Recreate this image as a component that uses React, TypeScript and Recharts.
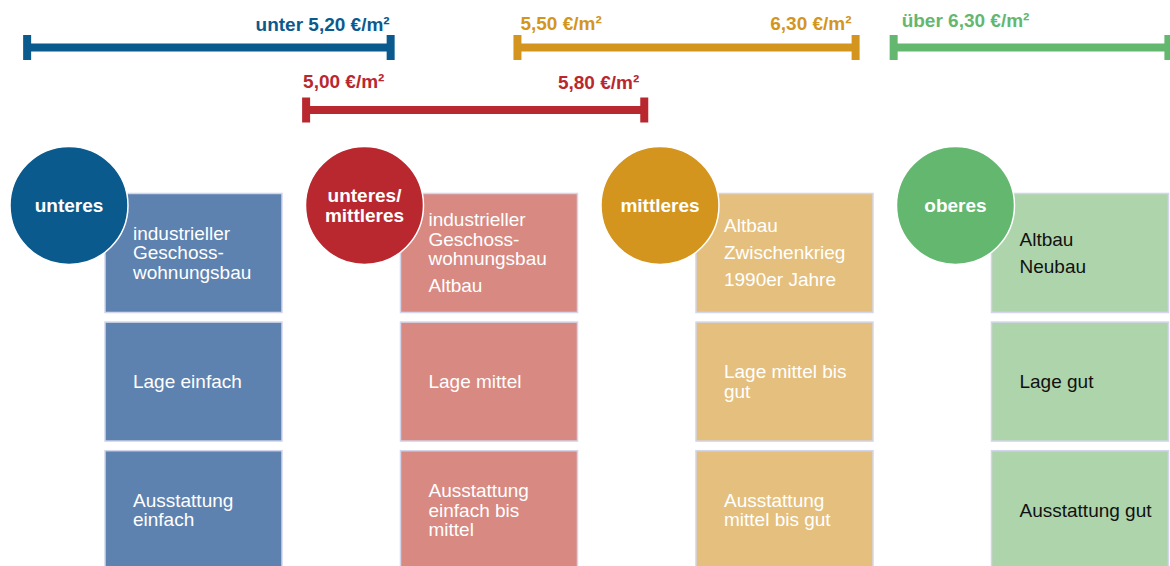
import React from 'react';
import { ComposedChart, Line, Scatter, XAxis, YAxis } from 'recharts';

// Mietpreisspannen (€/m²) je Wohnwertklasse
const levels = ['unteres', 'unteres/mittleres', 'mittleres', 'oberes'];
const priceFrom = [4.34, 5.0, 5.5, 6.39];
const priceTo = [5.2, 5.8, 6.3, 7.04];
const priceTrack = [0, 1, 0, 0];
const fromLabels = ['', '5,00 €/m²', '5,50 €/m²', 'über 6,30 €/m²'];
const toLabels = ['unter 5,20 €/m²', '5,80 €/m²', '6,30 €/m²', ''];

const badgeLines = [['unteres'], ['unteres/', 'mittleres'], ['mittleres'], ['oberes']];

// each cell: list of paragraphs, each paragraph a list of wrapped lines
const baujahrTexts = [
  [['industrieller', 'Geschoss-', 'wohnungsbau']],
  [['industrieller', 'Geschoss-', 'wohnungsbau'], ['Altbau']],
  [['Altbau'], ['Zwischenkrieg'], ['1990er Jahre']],
  [['Altbau'], ['Neubau']],
];
const lageTexts = [[['Lage einfach']], [['Lage mittel']], [['Lage mittel bis', 'gut']], [['Lage gut']]];
const ausstattungTexts = [
  [['Ausstattung', 'einfach']],
  [['Ausstattung', 'einfach bis', 'mittel']],
  [['Ausstattung', 'mittel bis gut']],
  [['Ausstattung gut']],
];

const DARK = ['#0B5A8E', '#B9282F', '#D4951F', '#64B76F'];
const LIGHT = ['#5D82B0', '#D88981', '#E5BF7D', '#AED4AC'];
const BOX_TEXT = ['#ffffff', '#ffffff', '#ffffff', '#111111'];
// label placement relative to the cap: [dx, lift]
const FROM_LABEL_POS = [[0, 0], [-3, 22], [3, 17.5], [8, 20.5]];
const TO_LABEL_POS = [[-1, 16.5], [-5, 21], [-4, 17.5], [0, 0]];

const FONT = '"Liberation Sans", Arial, sans-serif';

const bands = levels.map((name, i) => ({
  name,
  level: i,
  points: [
    { price: priceFrom[i], lvl: priceTrack[i], label: fromLabels[i], end: 'from' },
    { price: priceTo[i], lvl: priceTrack[i], label: toLabels[i], end: 'to' },
  ],
}));

const rowTexts = [baujahrTexts, lageTexts, ausstattungTexts];
const boxes = rowTexts.flatMap((texts, r) =>
  texts.map((text, i) => ({ col: i, row: r, level: i, text }))
);
const badges = badgeLines.map((lines, i) => ({ col: i, row: 0, level: i, lines }));

function makeCap(level: number) {
  return (props: any) => {
    const { cx, cy, payload, index } = props;
    const color = DARK[level];
    const isFrom = payload.end === 'from';
    const pos = isFrom ? FROM_LABEL_POS[level] : TO_LABEL_POS[level];
    return (
      <g key={`cap-${level}-${index}`}>
        <rect x={cx - 4} y={cy - 12.5} width={8} height={25} fill={color} />
        {payload.label && (
          <text
            x={cx + pos[0]}
            y={cy - pos[1]}
            textAnchor={isFrom ? 'start' : 'end'}
            fill={color}
            fontFamily={FONT}
            fontSize={19}
            fontWeight="bold"
          >
            {payload.label}
          </text>
        )}
      </g>
    );
  };
}

function InfoBox(props: any) {
  const { cx, cy, payload } = props;
  const w = 177;
  const h = 119;
  const x0 = cx - w / 2;
  const y0 = cy - h / 2;
  const lines: { t: string; y: number }[] = [];
  let y = 0;
  payload.text.forEach((para: string[]) => {
    para.forEach((t, li) => {
      if (lines.length) y += li === 0 ? 27 : 19.5;
      lines.push({ t, y });
    });
  });
  const first = cy - y / 2 + 6.5;
  return (
    <g>
      <rect x={x0} y={y0} width={w} height={h} fill={LIGHT[payload.level]} stroke="#D3D6EA" strokeWidth={1.5} />
      {lines.map((l, k) => (
        <text key={k} x={x0 + 28} y={first + l.y} fill={BOX_TEXT[payload.level]} fontFamily={FONT} fontSize={19}>
          {l.t}
        </text>
      ))}
    </g>
  );
}

function Badge(props: any) {
  const { cx, cy, payload } = props;
  const bx = cx - 124.5;
  const by = cy - 47.5;
  const n = payload.lines.length;
  return (
    <g>
      <circle cx={bx} cy={by} r={59} fill={DARK[payload.level]} stroke="#ffffff" strokeWidth={1.5} />
      {payload.lines.map((t: string, k: number) => (
        <text
          key={k}
          x={bx}
          y={by + 6.5 + (k - (n - 1) / 2) * 19.5}
          textAnchor="middle"
          fill="#ffffff"
          fontFamily={FONT}
          fontSize={19}
          fontWeight="bold"
        >
          {t}
        </text>
      ))}
    </g>
  );
}

export default function App() {
  return (
    <div style={{ position: 'absolute', left: 0, top: 0, background: '#fff' }}>
      <ComposedChart width={1170} height={566} margin={{ top: 0, right: 0, bottom: 0, left: 0 }}>
        <XAxis xAxisId="price" type="number" dataKey="price" domain={[4.2758, 7.0438]} allowDataOverflow hide />
        <XAxis xAxisId="col" type="number" dataKey="col" domain={[-0.6548, 3.3046]} allowDataOverflow hide />
        <YAxis yAxisId="lvl" type="number" dataKey="lvl" domain={[-0.76, 8.296]} reversed allowDataOverflow hide />
        <YAxis yAxisId="row" type="number" dataKey="row" domain={[-1.967, 2.434]} reversed allowDataOverflow hide />

        {bands.map((b) => (
          <Line
            key={b.name}
            name={b.name}
            data={b.points}
            xAxisId="price"
            yAxisId="lvl"
            dataKey="lvl"
            type="linear"
            stroke={DARK[b.level]}
            strokeWidth={8}
            dot={makeCap(b.level)}
            activeDot={false}
            isAnimationActive={false}
          />
        ))}

        <Scatter data={boxes} xAxisId="col" yAxisId="row" shape={InfoBox} isAnimationActive={false} />
        <Scatter data={badges} xAxisId="col" yAxisId="row" shape={Badge} isAnimationActive={false} />
      </ComposedChart>
    </div>
  );
}
